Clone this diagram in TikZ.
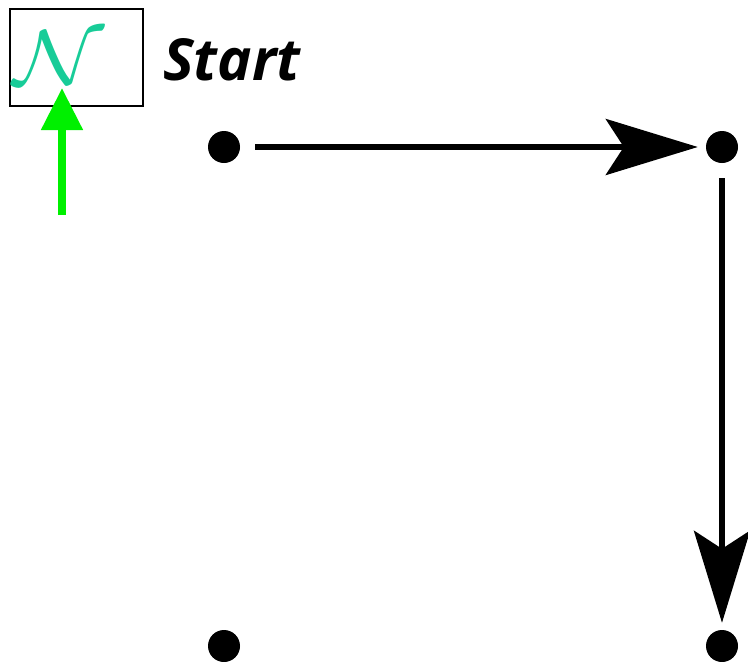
\documentclass[tikz,border=0pt]{standalone}
\usepackage{fontspec}
\usepackage{graphicx}
\setsansfont{Open Sans}
\usetikzlibrary{arrows.meta}
\definecolor{teal1}{RGB}{24,204,152}
\definecolor{brightgreen}{RGB}{0,240,0}
\begin{document}
\begin{tikzpicture}[x=1pt,y=-1pt,
  dotnode/.style={circle,fill=black,inner sep=0pt,minimum size=32pt},
  mainarrow/.style={line width=5.5pt,-{Stealth[length=92pt,width=56pt,inset=18pt]}}]
\useasboundingbox (0,0) rectangle (748,662);
\node[draw=black,line width=2pt,minimum width=133pt,minimum height=97pt,inner sep=0pt] (box) at (76.5,57.5) {};
\node[text=teal1,inner sep=0pt] (nsym) at (59,58) {\scalebox{9.4}[7.8]{$\mathcal{N}$}};
\coordinate (gstart) at (62,215);
\coordinate (gend) at (62,88);
\draw[brightgreen,line width=8pt,-{Triangle[length=42pt,width=40pt]}] (gstart) -- (gend);
\node[anchor=base west,inner sep=0pt] (start) at (163,80) {\sffamily\bfseries\itshape\fontsize{58}{58}\selectfont Start};
\node[dotnode] (d1) at (224,147) {};
\node[dotnode] (d2) at (722,147) {};
\node[dotnode] (d3) at (224,646) {};
\node[dotnode] (d4) at (722,646) {};
\draw[mainarrow,shorten <=15pt,shorten >=8pt] (d1) -- (d2);
\draw[mainarrow,shorten <=15pt,shorten >=7pt] (d2) -- (d4);
\end{tikzpicture}
\end{document}
